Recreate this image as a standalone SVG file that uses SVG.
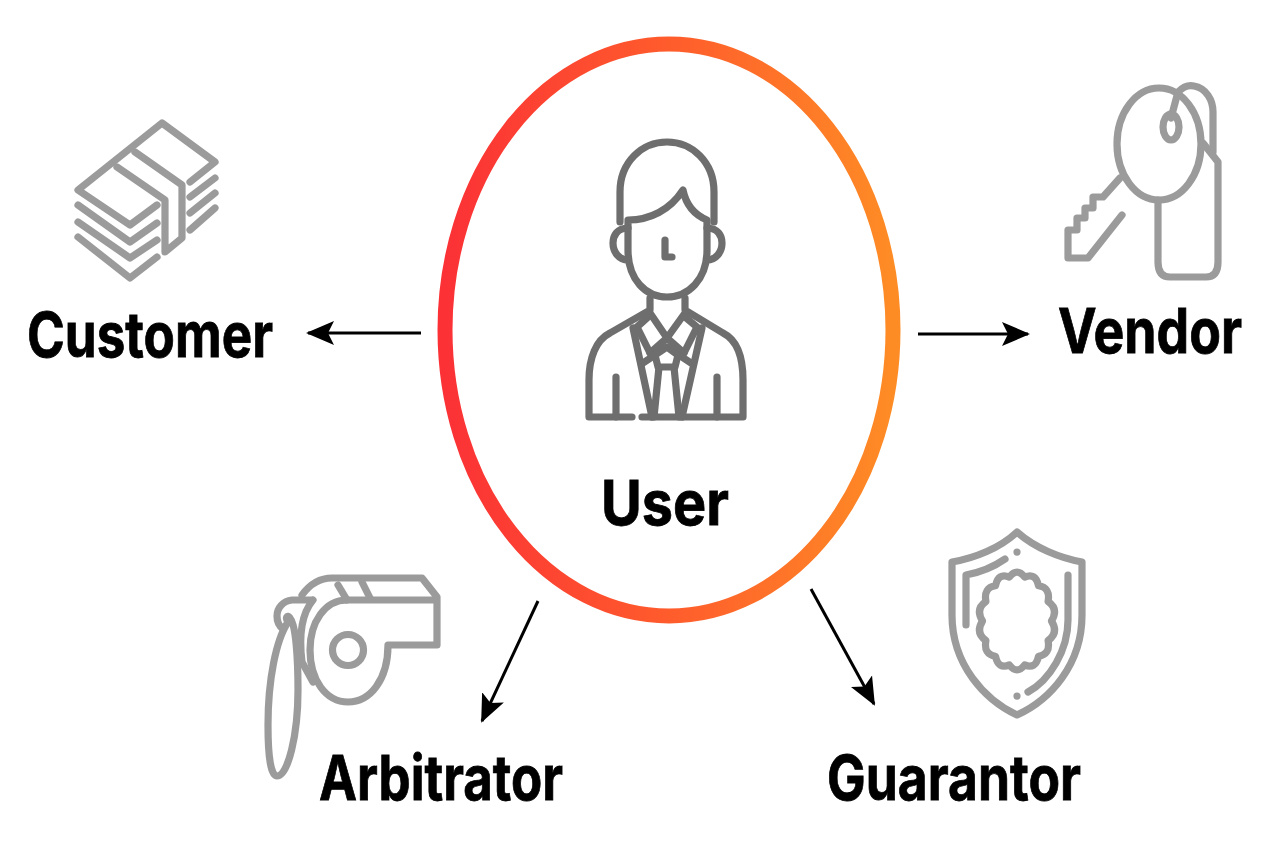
<svg xmlns="http://www.w3.org/2000/svg" width="1280" height="850" viewBox="0 0 1280 850">
<style>
.ic{fill:none;stroke-linecap:round;stroke-linejoin:round;stroke-width:7.2}
.g1{stroke:#9b9b9b}.g2{stroke:#6e6e6e}
.lb{font-family:"Inter","Liberation Sans",sans-serif;font-weight:700;font-size:62px;fill:#000;stroke:#000;stroke-width:.8}
.cn{fill:none;stroke:#000;stroke-width:3;marker-end:url(#ah)}
</style>
<defs>
<linearGradient id="rg" x1="0" y1="0" x2="1" y2="0"><stop offset="0" stop-color="#fb3136"/><stop offset=".5" stop-color="#ff5c2c"/><stop offset="1" stop-color="#fe8c25"/></linearGradient>
<marker id="ah" markerUnits="userSpaceOnUse" markerWidth="30" markerHeight="30" refX="26" refY="12" orient="auto" viewBox="0 0 30 24"><path d="M0 0L28 12L0 24L6 12Z" fill="#000"/></marker>
</defs>
<rect width="1280" height="850" fill="#fff"/>
<g id="connectors">
<path class="cn" d="M421 333H308"/>
<path class="cn" d="M918 334H1028"/>
<path class="cn" d="M538 601L482 721"/>
<path class="cn" d="M811 589L874 704"/>
</g>
<g id="user">
<ellipse cx="669" cy="330" rx="224" ry="286" fill="none" stroke="url(#rg)" stroke-width="15"/>
<g class="ic g2">
<path d="M620 222V192C620 162 642 142 667 142C692 142 714 162 714 192V222"/>
<path d="M628 220C650 220 670 210 683 190C686 205 695 215 707 220V250C707 280 688 297 667 297C646 297 628 280 628 250Z"/>
<path d="M628 228C617 228 613 236 613 243C613 252 619 260 628 260M707 228C718 228 722 236 722 243C722 252 716 260 707 260"/>
<path d="M665 240V257H672"/>
<path d="M650 298V310L610 333C596 340 589 358 589 380V417H632M685 298V310L723 333C737 340 743 358 743 380V417H642"/>
<path d="M616 377V417M717 377V417"/>
<path d="M650 313L667 338L684 353M685 313L667 338L650 353"/>
<path d="M648 317L637 327L650 353M685 317L697 327L684 353"/>
<path d="M633 328L652 417M702 328L682 417"/>
<path d="M667 347L678 355L675 367H658L655 355Z"/>
<path d="M659 367L654 417M674 367L679 417"/>
<path d="M643 363L652 357M691 363L682 357"/>
</g>
<text class="lb" x="665" y="525" text-anchor="middle" textLength="128" lengthAdjust="spacingAndGlyphs">User</text>
</g>
<g id="customer">
<g class="ic g1">
<path d="M190 182L215 162L162 123L78 190L130 225L157 205"/>
<path d="M117 167L165 200V252L182 238V185L135 152"/>
<path d="M78 205L130 242L157 223M78 222L130 258L157 240M78 237L130 278L157 257"/>
<path d="M190 197L215 178M190 213L215 193M190 230L215 208"/>
</g>
<text class="lb" x="150" y="357" text-anchor="middle" textLength="246" lengthAdjust="spacingAndGlyphs">Customer</text>
</g>
<g id="vendor">
<g class="ic g1">
<ellipse cx="1159" cy="144" rx="42" ry="56"/>
<ellipse cx="1171" cy="127" rx="8" ry="13"/>
<path d="M1171 118L1178 92C1184 86 1190 85 1194 86C1206 88 1213 100 1213 112V152"/>
<path d="M1203 143L1218 162V262Q1218 277 1206 277H1170Q1158 277 1158 262V200"/>
<path d="M1120 178L1103 197H1093V208H1085V218H1077V230H1068V258H1088L1122 215"/>
</g>
<text class="lb" x="1150" y="353" text-anchor="middle" textLength="184" lengthAdjust="spacingAndGlyphs">Vendor</text>
</g>
<g id="arbitrator">
<g class="ic g1">
<path d="M302 595C310 584 320 578 332 578H422L437 597V645H388C388 680 370 702 348 702C326 702 310 680 310 650C310 622 325 600 347 600H437"/>
<circle cx="348" cy="650" r="15.500"/>
<path d="M338 585L347 600M362 582L370 598"/>
<path d="M313 600C303 612 298 630 302 662L313 682"/>
<path d="M312 600H292C283 601 277 608 277 616C277 622 279 626 283 629"/>
<path d="M288 622C276 640 268 680 268 725C268 758 271 776 277 776C288 776 298 735 298 690C298 660 296 625 290 618C287 614 285 618 288 622Z"/>
</g>
<text class="lb" x="441" y="800" text-anchor="middle" textLength="244" lengthAdjust="spacingAndGlyphs">Arbitrator</text>
</g>
<g id="guarantor">
<g class="ic g1">
<path d="M1017 532C1000 548 975 558 952 562V615C952 665 985 700 1017 715C1050 700 1082 665 1082 615V562C1060 558 1035 548 1017 532Z"/>
<path d="M966 625V575C982 572 995 566 1005 559"/>
<path d="M1068 575V620C1068 650 1050 680 1028 692"/>
<path d="M1017 552V552.100M1017 696V696.100"/>
<path d="M1051.500 621Q1058.900 633 1048.100 640.500Q1050.600 654.600 1038.500 656.200Q1035.700 669.700 1024.700 664.900Q1017 675 1009.300 664.900Q998.300 669.700 995.500 656.200Q983.400 654.600 985.900 640.500Q975.100 633 982.500 621Q975.100 609 985.900 601.500Q983.400 587.400 995.500 585.800Q998.300 572.300 1009.300 577.100Q1017 567 1024.700 577.100Q1035.700 572.300 1038.500 585.800Q1050.600 587.400 1048.100 601.500Q1058.900 609 1051.500 621Z"/>
</g>
<text class="lb" x="954" y="800" text-anchor="middle" textLength="254" lengthAdjust="spacingAndGlyphs">Guarantor</text>
</g>
</svg>
